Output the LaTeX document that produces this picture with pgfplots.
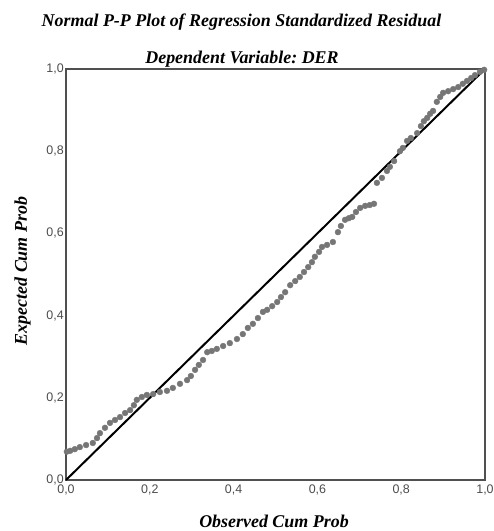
\documentclass[border=0pt]{standalone}
\usepackage{fontspec}
\setmainfont{Liberation Serif}
\newfontfamily\tickfont{Liberation Sans}
\usepackage{pgfplots}
\pgfplotsset{compat=1.18}
\definecolor{dotgray}{RGB}{118,118,118}
\definecolor{framegray}{RGB}{80,80,80}
\frenchspacing
\begin{document}
\begin{tikzpicture}[x=1bp,y=1bp]
\path[use as bounding box] (-66,-51) rectangle (428,480);
\begin{axis}[
  at={(0,0)}, anchor=south west,
  width=419bp, height=411bp, scale only axis,
  xmin=0, xmax=1, ymin=0, ymax=1,
  xtick={0,0.2,0.4,0.6,0.8,1}, ytick={0,0.2,0.4,0.6,0.8,1},
  xticklabels={{0,0},{0,2},{0,4},{0,6},{0,8},{1,0}},
  yticklabels={{0,0},{0,2},{0,4},{0,6},{0,8},{1,0}},
  major tick length=0,
  ticklabel style={font=\tickfont\fontsize{12.5}{13}\selectfont, text=black!70},
  xticklabel style={yshift=-1bp},
  yticklabel style={inner sep=2bp},
  axis line style={framegray, line width=1.1bp},
  clip=false,
]
\addplot[only marks, mark=*, mark size=2.9bp, mark options={draw=dotgray, fill=dotgray}] table {
x y
0.002 0.069
0.010 0.071
0.021 0.075
0.033 0.080
0.048 0.085
0.064 0.090
0.074 0.102
0.081 0.114
0.093 0.127
0.105 0.139
0.117 0.146
0.129 0.153
0.141 0.163
0.153 0.170
0.162 0.182
0.169 0.195
0.181 0.202
0.193 0.207
0.208 0.209
0.224 0.214
0.241 0.217
0.255 0.224
0.272 0.234
0.289 0.243
0.298 0.253
0.308 0.268
0.317 0.280
0.327 0.292
0.337 0.311
0.348 0.314
0.360 0.319
0.375 0.326
0.391 0.333
0.408 0.343
0.422 0.355
0.434 0.370
0.446 0.380
0.458 0.394
0.470 0.409
0.480 0.414
0.492 0.423
0.504 0.433
0.513 0.445
0.523 0.457
0.535 0.474
0.547 0.484
0.558 0.494
0.568 0.506
0.578 0.518
0.587 0.530
0.594 0.543
0.604 0.555
0.611 0.567
0.623 0.572
0.637 0.579
0.649 0.603
0.656 0.618
0.666 0.633
0.675 0.637
0.683 0.640
0.692 0.652
0.702 0.662
0.714 0.667
0.725 0.669
0.735 0.672
0.742 0.723
0.754 0.735
0.766 0.752
0.773 0.762
0.783 0.776
0.797 0.800
0.804 0.808
0.814 0.825
0.823 0.832
0.838 0.844
0.847 0.861
0.854 0.873
0.862 0.881
0.869 0.891
0.876 0.898
0.885 0.920
0.893 0.932
0.900 0.942
0.912 0.946
0.924 0.951
0.936 0.956
0.947 0.964
0.957 0.971
0.967 0.978
0.976 0.985
0.988 0.993
0.998 0.998
};
\addplot[black, line width=2bp] coordinates {(0,0) (1,1)};
\end{axis}
\node[anchor=base, font=\bfseries\itshape\fontsize{18}{19}\selectfont] at (175.5,453) {Normal P-P Plot of Regression Standardized Residual};
\node[anchor=base, font=\bfseries\itshape\fontsize{18}{19}\selectfont] at (176,416) {Dependent Variable: DER};
\node[anchor=base, font=\bfseries\itshape\fontsize{18}{19}\selectfont] at (208,-48) {Observed Cum Prob};
\node[anchor=base, rotate=90, font=\bfseries\itshape\fontsize{18}{19}\selectfont] at (-39,209) {Expected Cum Prob};
\end{tikzpicture}
\end{document}
